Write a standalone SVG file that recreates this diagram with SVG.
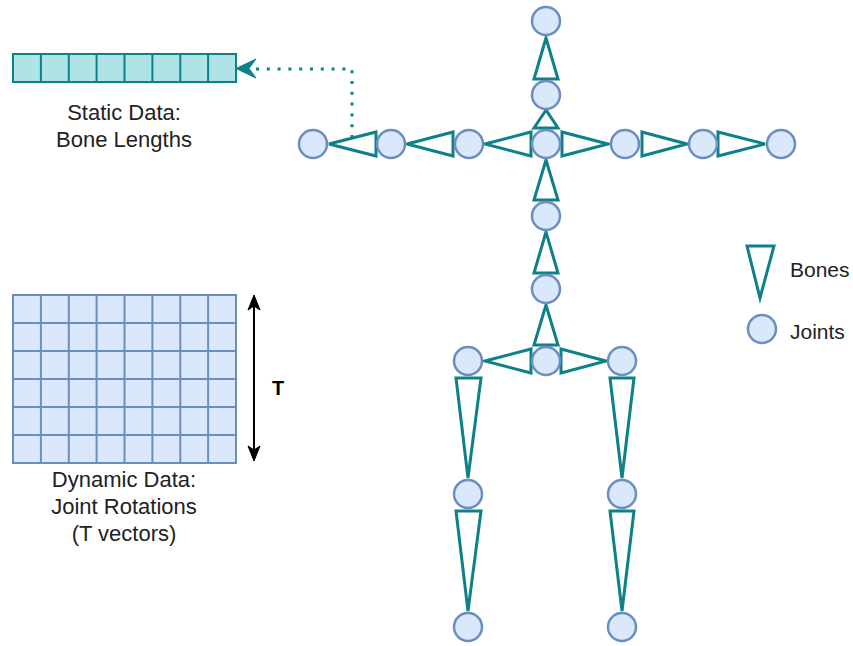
<svg xmlns="http://www.w3.org/2000/svg" width="853" height="646" viewBox="0 0 853 646">
  <style>
    .bone { fill: #ffffff; stroke: #0e8088; stroke-width: 3; stroke-linejoin: miter; }
    .joint { fill: #dae8fc; stroke: #6c8ebf; stroke-width: 2.5; }
    .lbl { font-family: "Liberation Sans", Arial, sans-serif; font-size: 22px; fill: #222222; text-anchor: middle; }
    .leg { font-family: "Liberation Sans", Arial, sans-serif; font-size: 21px; fill: #222222; }
    .cellS { fill: #b0e3e6; stroke: #0e8088; stroke-width: 2; }
    .cellD { fill: #dae8fc; stroke: #6c8ebf; stroke-width: 2; }
    .gridD { stroke: #6c8ebf; stroke-width: 2; fill: none; }
    .gridS { stroke: #0e8088; stroke-width: 2; fill: none; }
  </style>

  <!-- static data: one row of bone lengths -->
  <g id="static-data">
    <rect class="cellS" x="13" y="54" width="223" height="28"/>
    <path class="gridS" d="M40.9,54V82M68.8,54V82M96.6,54V82M124.5,54V82M152.4,54V82M180.3,54V82M208.1,54V82"/>
    <text class="lbl" x="124" y="120">Static Data:</text>
    <text class="lbl" x="124" y="147">Bone Lengths</text>
  </g>

  <!-- dynamic data: T rows of joint rotations -->
  <g id="dynamic-data">
    <rect class="cellD" x="13" y="295" width="223" height="168"/>
    <path class="gridD" d="M40.9,295V463M68.8,295V463M96.6,295V463M124.5,295V463M152.4,295V463M180.3,295V463M208.1,295V463
             M13,323H236M13,351H236M13,379H236M13,407H236M13,435H236"/>
    <text class="lbl" x="124" y="487">Dynamic Data:</text>
    <text class="lbl" x="124" y="514">Joint Rotations</text>
    <text class="lbl" x="124" y="541">(T vectors)</text>
  </g>

  <!-- T extent arrow -->
  <g id="t-extent">
    <line x1="254" y1="304" x2="254" y2="451" stroke="#000000" stroke-width="2"/>
    <path d="M254,295 L260,310 L254,306 L248,310 Z" fill="#000000" stroke="#000000" stroke-width="1"/>
    <path d="M254,461 L260,446 L254,450 L248,446 Z" fill="#000000" stroke="#000000" stroke-width="1"/>
    <text x="278" y="395" font-family="Liberation Sans, Arial, sans-serif" font-size="20" font-weight="bold" fill="#000000" text-anchor="middle">T</text>
  </g>

  <!-- connectors -->
  <g id="connectors">
    <path d="M352,138 V69 H252" fill="none" stroke="#0e8088" stroke-width="3" stroke-dasharray="3 7.8"/>
    <path d="M236,68.5 L256,59 L249,68.5 L256,78 Z" fill="#0e8088" stroke="#0e8088" stroke-width="1"/>
  </g>

  <!-- bones -->
  <g id="bones">
    <polygon id="bone-head" class="bone" points="546,38 534,79 558,79"/>
    <polygon id="bone-neck" class="bone" points="546,110 534,128 558,128"/>
    <polygon id="bone-l-hand" class="bone" points="329,144 376,132 376,156"/>
    <polygon id="bone-l-forearm" class="bone" points="407,144 453,132 453,156"/>
    <polygon id="bone-l-upperarm" class="bone" points="485,144 531,132 531,156"/>
    <polygon id="bone-r-upperarm" class="bone" points="608,144 562,132 562,156"/>
    <polygon id="bone-r-forearm" class="bone" points="687,144 642,132 642,156"/>
    <polygon id="bone-r-hand" class="bone" points="765,144 718,132 718,156"/>
    <polygon id="bone-spine1" class="bone" points="546,160 534,200 558,200"/>
    <polygon id="bone-spine2" class="bone" points="546,232 534,273 558,273"/>
    <polygon id="bone-spine3" class="bone" points="546,305 534,345 558,345"/>
    <polygon id="bone-l-hip" class="bone" points="485,361 531,349 531,373"/>
    <polygon id="bone-r-hip" class="bone" points="606,361 561,349 561,373"/>
    <polygon id="bone-l-thigh" class="bone" points="456,378 481,378 468,478"/>
    <polygon id="bone-l-shin" class="bone" points="456,511 481,511 468,611"/>
    <polygon id="bone-r-thigh" class="bone" points="610,378 634,378 622,478"/>
    <polygon id="bone-r-shin" class="bone" points="610,511 634,511 622,611"/>
  </g>

  <!-- joints -->
  <g id="joints">
    <g id="joint-head"><circle class="joint" cx="546" cy="21" r="14"/></g>
    <g id="joint-neck"><circle class="joint" cx="546" cy="95" r="14"/></g>
    <g id="joint-chest"><circle class="joint" cx="546" cy="144" r="14"/></g>
    <g id="joint-l-hand"><circle class="joint" cx="313" cy="144" r="14"/></g>
    <g id="joint-l-elbow"><circle class="joint" cx="391" cy="144" r="14"/></g>
    <g id="joint-l-shoulder"><circle class="joint" cx="469" cy="144" r="14"/></g>
    <g id="joint-r-shoulder"><circle class="joint" cx="625" cy="144" r="14"/></g>
    <g id="joint-r-elbow"><circle class="joint" cx="703" cy="144" r="14"/></g>
    <g id="joint-r-hand"><circle class="joint" cx="781" cy="144" r="14"/></g>
    <g id="joint-spine1"><circle class="joint" cx="546" cy="216" r="14"/></g>
    <g id="joint-spine2"><circle class="joint" cx="546" cy="289" r="14"/></g>
    <g id="joint-pelvis"><circle class="joint" cx="546" cy="361" r="14"/></g>
    <g id="joint-l-hip"><circle class="joint" cx="468" cy="361" r="14"/></g>
    <g id="joint-r-hip"><circle class="joint" cx="622" cy="361" r="14"/></g>
    <g id="joint-l-knee"><circle class="joint" cx="468" cy="494" r="14"/></g>
    <g id="joint-r-knee"><circle class="joint" cx="622" cy="494" r="14"/></g>
    <g id="joint-l-foot"><circle class="joint" cx="468" cy="627" r="14"/></g>
    <g id="joint-r-foot"><circle class="joint" cx="622" cy="627" r="14"/></g>
  </g>

  <!-- legend -->
  <g id="legend">
    <polygon class="bone" points="747,246 774,246 760,298"/>
    <text class="leg" x="790" y="277">Bones</text>
    <circle class="joint" cx="762" cy="329" r="14"/>
    <text class="leg" x="790" y="339">Joints</text>
  </g>
</svg>
